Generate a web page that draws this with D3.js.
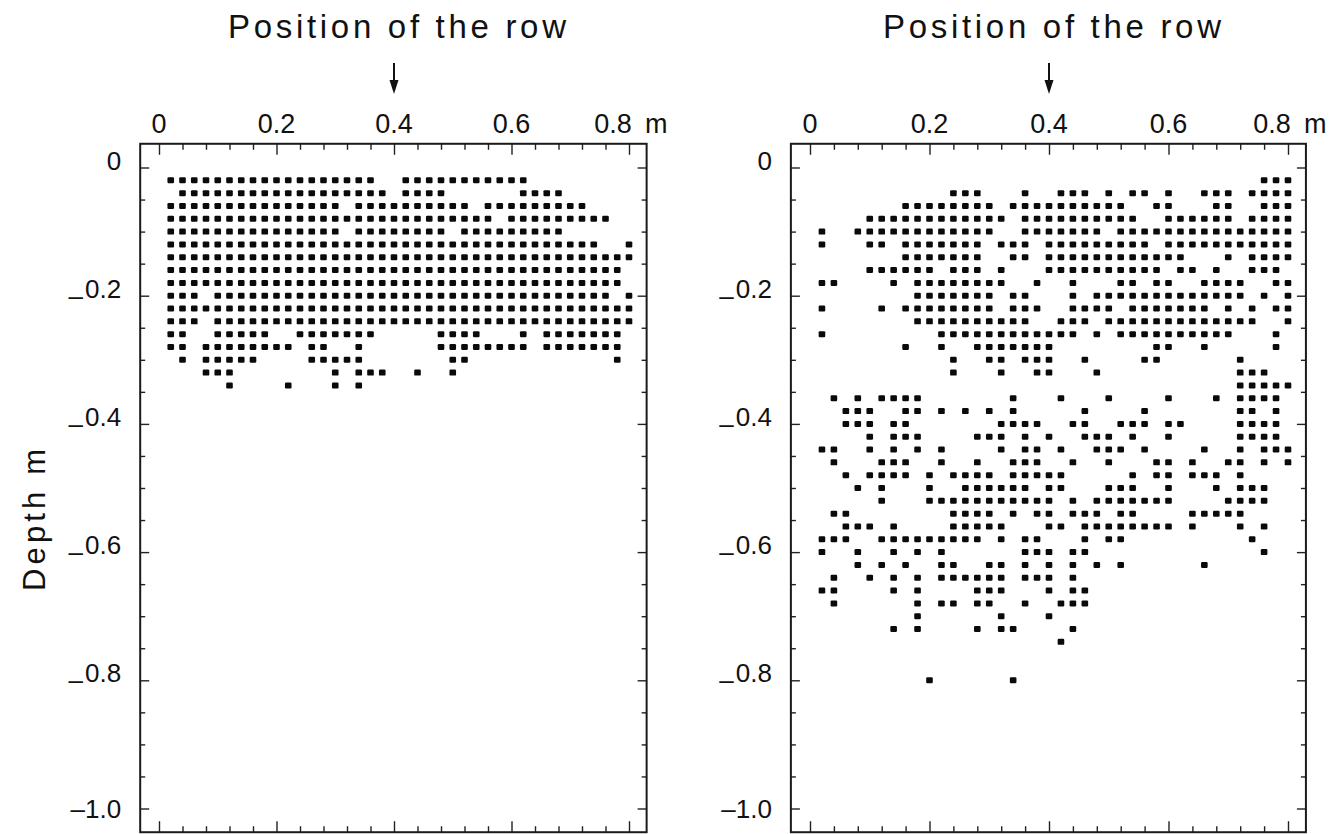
<!DOCTYPE html>
<html>
<head>
<meta charset="utf-8">
<script src="https://cdn.jsdelivr.net/npm/d3@7"></script>
<style>
html, body { margin: 0; padding: 0; background: #fff; }
svg text { font-family: "Liberation Sans", Arial, Helvetica, sans-serif; fill: #111; }
</style>
</head>
<body>
<svg id="chart" width="1339" height="834"></svg>
<script>
var step, leftRows, rightRows, xTicks, xTickLabels, yTicks, yTickLabels, rowPosition;
var parse_rows, draw_panel, svg, y;

// grid spacing of the sampled cells, metres
step = 0.02;

// one string per depth row (row i = depth -(i+1)*0.02), listing occupied columns (column c = c*0.02 m)
leftRows = [
  "1-18,21-31",
  "2-19,21-24,31-34",
  "1-15,17-26,28-36",
  "1-28,30-38",
  "1-15,17-24,26-34",
  "1-37,40",
  "1-40",
  "1-39",
  "1-39",
  "1-3,5-38,40",
  "1-40",
  "1-3,5-40",
  "1-2,5-9,12-18,24-27,31,33-39",
  "1-2,4-11,13-14,17,24-31,33-39",
  "2,4-8,13-17,25-26,39",
  "4-6,15,17-19,22,25",
  "6,11,15,17"
];

rightRows = [
  "38-40",
  "12-14,18,21-23,25,27-28,30,33-35,37-40",
  "8-15,17-26,29-30,34-35,38-40",
  "5-16,18-27,30-35,37-40",
  "1,4-15,18-24,26-40",
  "1,5-6,8-14,16-18,20-28,30-40",
  "8-14,17-18,20-31,35,37-40",
  "5-10,12-14,16,20-29,31-32,34,37-39",
  "1-2,7,9-16,19,22,26-27,29-30,33-36,39-40",
  "9-15,17-18,22,24-36,38,40",
  "1,6,8-15,17-19,22-25,27-33,35,37,39-40",
  "9-18,21-23,25-37,40",
  "1,11-22,24,26-35,39",
  "8,11,14-20,29-30,33,39",
  "12,15-16,18-20,23,28-29,36",
  "12,16,19-20,24,36-38",
  "36-40",
  "2,4,6-9,17,21,25,30,34,36-39",
  "3-5,8-9,11,13,15,17,23,28,36-37,39",
  "3-5,7-8,16-19,22-23,26-28,30-31,36-39",
  "5,7-9,14-16,18,20,23-25,27,30,36-39",
  "1-2,5,7,9,11,16,18-19,21,24-26,28,33,36,38-40",
  "2,6-8,11,14,17-19,22,25,29-30,32,35-36,38,40",
  "3,5-8,10,12-15,17-21,27,29-30,32-34,36",
  "4,6,10,13-18,20-21,25-27,30,34,36-38",
  "6,10-20,22,24-30,35-38",
  "2-3,12-15,17,19-20,22-24,26-27,32-36",
  "3-5,7,12-16,20-21,23-30,32,36,38",
  "1-3,6-14,16,18-19,23,25-26,37",
  "1,4,7,9,11,18-20,22-23,38",
  "4,6,8,11-12,15-16,18,20,22,24,26,33",
  "2,5,7,9,11-16,18-20,22",
  "1-2,7,9,14-16,20,22-23",
  "2,9,11-12,14-15,18,21-23",
  "9,16,20",
  "7,9,14,16-17,22",
  "21",
  "",
  "",
  "10,17"
];

xTicks = [0, 0.2, 0.4, 0.6, 0.8];
xTickLabels = ["0", "0.2", "0.4", "0.6", "0.8"];
yTicks = [0, -0.2, -0.4, -0.6, -0.8, -1.0];
yTickLabels = ["0", "0.2", "0.4", "0.6", "0.8", "1.0"];
rowPosition = 0.4;

parse_rows = function(rows) {
  var pts = [];
  rows.forEach(function(s, i) {
    if (!s) return;
    s.split(",").forEach(function(part) {
      var ab = part.split("-").map(Number), c, last = ab.length > 1 ? ab[1] : ab[0];
      for (c = ab[0]; c <= last; c++) {
        pts.push({ x: c * step, depth: -(i + 1) * step });
      }
    });
  });
  return pts;
};

svg = d3.select("#chart");

y = d3.scaleLinear().domain([0, -1]).range([167.5, 808.5]);

draw_panel = function(rows, range) {
  var x, g, pts, left, right, top, bottom, minorX, minorY, lab, is_major, last;
  x = d3.scaleLinear().domain([0, 0.8]).range(range);
  g = svg.append("g");
  left = x(-0.032); right = x(0.83);
  top = y(0.037); bottom = y(-1.037);

  // ticks, pointing into the frame
  minorX = d3.range(0, 0.8001, 0.04);
  minorY = d3.range(0, -1.0001, -0.05);
  is_major = function(v) { return Math.abs(v / 0.2 - Math.round(v / 0.2)) < 1e-6; };

  [["top", d3.axisTop, top], ["bottom", d3.axisBottom, bottom]].forEach(function(a) {
    var ax = g.append("g").attr("transform", "translate(0," + a[2] + ")")
      .call(a[1](x).tickValues(minorX).tickFormat("").tickSizeOuter(0).tickSize(-6));
    ax.select(".domain").remove();
    ax.selectAll(".tick line").attr("y2", function(d) {
      return (a[0] === "top" ? 1 : -1) * (is_major(d) ? 11 : 6);
    }).attr("stroke", "#222").attr("stroke-width", 1.4);
  });
  [["left", d3.axisLeft, left], ["right", d3.axisRight, right]].forEach(function(a) {
    var ax = g.append("g").attr("transform", "translate(" + a[2] + ",0)")
      .call(a[1](y).tickValues(minorY).tickFormat("").tickSizeOuter(0).tickSize(-5));
    ax.select(".domain").remove();
    ax.selectAll(".tick line").attr("x2", function(d) {
      return (a[0] === "left" ? 1 : -1) * (is_major(d) ? 9 : 5);
    }).attr("stroke", "#222").attr("stroke-width", 1.4);
  });

  g.append("rect")
    .attr("x", left).attr("y", top)
    .attr("width", right - left).attr("height", bottom - top)
    .attr("fill", "none").attr("stroke", "#1a1a1a").attr("stroke-width", 2);

  // dots
  pts = parse_rows(rows);
  g.append("g").selectAll("rect").data(pts).enter().append("rect")
    .attr("x", function(d) { return x(d.x) - 3.3; })
    .attr("y", function(d) { return y(d.depth) - 3; })
    .attr("width", 6.6).attr("height", 6)
    .attr("rx", 1.2)
    .attr("fill", "#0a0a0a");

  // x tick labels above the frame; the last one carries the unit
  last = xTicks.length - 1;
  g.append("g").selectAll("text").data(xTicks).enter().append("text")
    .attr("x", function(d, i) { return x(d) - (i === last ? 16 : 0); })
    .attr("y", 133)
    .attr("text-anchor", "middle")
    .attr("font-size", 27)
    .text(function(d, i) { return xTickLabels[i]; });
  g.append("text")
    .attr("x", x(xTicks[last]) + 16).attr("y", 133)
    .attr("font-size", 27)
    .text("m");

  // y tick labels
  lab = g.append("g").selectAll("text").data(yTicks).enter().append("text")
    .attr("x", left - 19)
    .attr("y", function(d) { return y(d) + (d === -1 ? 9 : 2); })
    .attr("text-anchor", "end")
    .attr("font-size", 26);
  lab.each(function(d, i) {
    var t = d3.select(this);
    if (d === 0) {
      t.text(yTickLabels[i]);
    } else if (d === -1) {
      t.text("\u2013" + yTickLabels[i]);
    } else {
      t.append("tspan").attr("dy", 7).text("\u2013");
      t.append("tspan").attr("dy", -7).attr("dx", 2).text(yTickLabels[i]);
    }
  });

  // title and row marker
  g.append("text")
    .attr("x", x(rowPosition) + 3).attr("y", 38)
    .attr("text-anchor", "middle")
    .attr("font-size", 33)
    .attr("textLength", 338).attr("lengthAdjust", "spacing")
    .text("Position of the row");
  g.append("line")
    .attr("x1", x(rowPosition)).attr("x2", x(rowPosition))
    .attr("y1", 63).attr("y2", 86)
    .attr("stroke", "#111").attr("stroke-width", 2);
  g.append("path")
    .attr("d", "M" + (x(rowPosition) - 4.5) + ",80L" + (x(rowPosition) + 4.5) + ",80L" + x(rowPosition) + ",94Z")
    .attr("fill", "#111");
};

draw_panel(leftRows, [159, 629]);
draw_panel(rightRows, [810, 1288]);

svg.append("text")
  .attr("transform", "translate(45,520) rotate(-90)")
  .attr("text-anchor", "middle")
  .attr("font-size", 31)
  .attr("textLength", 142).attr("lengthAdjust", "spacing")
  .text("Depth m");
</script>
</body>
</html>
